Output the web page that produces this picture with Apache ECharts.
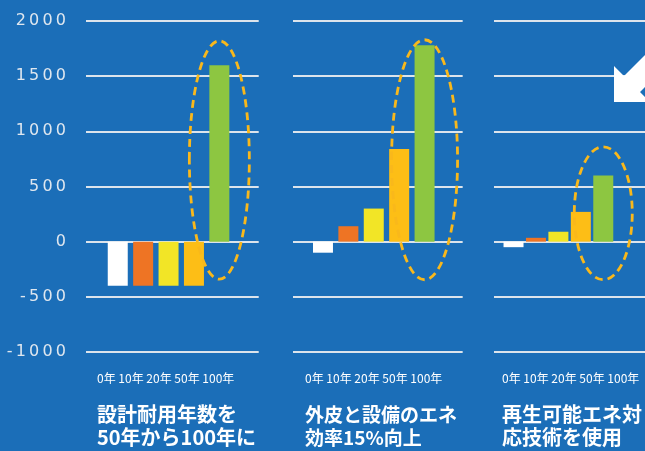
<!DOCTYPE html>
<html>
<head>
<meta charset="utf-8">
<script src="https://cdn.jsdelivr.net/npm/echarts@6/dist/echarts.min.js"></script>
<style>
  html, body { margin: 0; padding: 0; background: #1b6eb8; }
  #main { width: 645px; height: 451px; }
</style>
</head>
<body>
<div id="main"></div>
<script>
// データ
const categories = ["0年", "10年", "20年", "50年", "100年"];
const yTicks = [-1000, -500, 0, 500, 1000, 1500, 2000];
const lifeExtension = [-400, -400, -400, -400, 1600];   // 設計耐用年数
const efficiencyUp = [-100, 140, 300, 840, 1780];        // エネ効率15%向上
const renewable = [-50, 35, 90, 270, 600];               // 再生可能エネ
const captions = [
  "設計耐用年数を\n50年から100年に",
  "外皮と設備のエネ\n効率15%向上",
  "再生可能エネ対\n応技術を使用"
];

// 見た目
const barColors = ["#ffffff", "#ee7424", "#f2e526", "#fdbe16", "#8dc641"];
const panels = [
  { left: 86, xMin: -1.25, xMax: 5.55, textLeft: 97 },
  { left: 293, xMin: -1.18, xMax: 5.5, textLeft: 305 },
  { left: 494, xMin: -0.87, xMax: 5.86, textLeft: 502 }
];
// 楕円（緑の棒を囲む）: 上端・下端の値と横半径px
const rings = [
  { top: 1820, bottom: -340, rx: 30 },
  { top: 1830, bottom: -345, rx: 33 },
  { top: 860, bottom: -345, rx: 29 }
];
const seriesData = [lifeExtension, efficiencyUp, renewable];

var chart = echarts.init(document.getElementById("main"));

var grids = [], xAxes = [], yAxes = [], series = [], titles = [];
panels.forEach(function (p, k) {
  var w = 25.4 * (p.xMax - p.xMin);
  grids.push({ left: p.left, top: 21, width: w, height: 331 });
  xAxes.push({
    type: "value", gridIndex: k, min: p.xMin, max: p.xMax, show: false
  });
  yAxes.push({
    type: "value", gridIndex: k, min: yTicks[0], max: yTicks[yTicks.length - 1], interval: 500,
    axisLine: { show: false }, axisTick: { show: false },
    axisLabel: {
      show: k === 0, margin: 20, color: "#dfe7ef",
      fontFamily: "DejaVu Sans", fontSize: 16,
      // 元図の字間が広いので細いスペースを挟む
      formatter: function (v) { return String(v).split("").join("\u2009"); }
    },
    splitLine: { lineStyle: { color: "#dce4ec", width: 2 } }
  });
  series.push({
    type: "bar", xAxisIndex: k, yAxisIndex: k, barWidth: 20,
    data: seriesData[k].map(function (v, i) {
      return { value: [i, v], itemStyle: { color: barColors[i] } };
    })
  });
  titles.push({
    text: categories.join(" "), left: p.textLeft, top: 371, padding: 0,
    textStyle: { color: "#ffffff", fontSize: 12, fontWeight: "normal",
      fontFamily: "Noto Sans CJK JP", lineHeight: 14 }
  });
  titles.push({
    text: captions[k], left: p.textLeft, top: 403, padding: 0,
    textStyle: { color: "#ffffff", fontSize: k === 1 ? 19 : 20, fontWeight: "bold",
      fontFamily: "Noto Sans CJK JP", lineHeight: 23 }
  });
});

chart.setOption({
  backgroundColor: "#1b6eb8",
  animation: false,
  title: titles,
  grid: grids,
  xAxis: xAxes,
  yAxis: yAxes,
  series: series
});

// 注釈: 点線の楕円と矢印
var graphics = rings.map(function (r, k) {
  var top = chart.convertToPixel({ gridIndex: k }, [4, r.top]);
  var bot = chart.convertToPixel({ gridIndex: k }, [4, r.bottom]);
  return {
    type: "ellipse",
    shape: { cx: top[0], cy: (top[1] + bot[1]) / 2, rx: r.rx, ry: (bot[1] - top[1]) / 2 },
    style: { fill: "none", stroke: "#f9b81b", lineWidth: 2.8, lineDash: [8, 5] },
    z: 10
  };
});
graphics.push({
  type: "polygon",
  shape: { points: [[614, 102], [614, 66], [624, 76], [678, 22], [694, 38], [640, 92], [650, 102]] },
  style: { fill: "#ffffff" },
  z: 10
});
chart.setOption({ graphic: graphics });
</script>
</body>
</html>
